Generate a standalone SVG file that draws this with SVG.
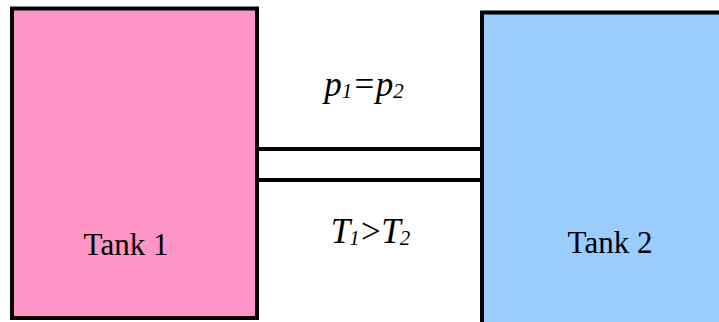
<svg xmlns="http://www.w3.org/2000/svg" width="719" height="322" viewBox="0 0 719 322">
<style>
.tank{stroke:#000;stroke-width:4}
.pipe{stroke:#000;stroke-width:4;fill:none}
.lbl{font-family:"Liberation Serif",serif;font-size:31px;fill:#000;text-anchor:middle}
.math{font-family:"Liberation Serif",serif;font-size:35px;font-style:italic;fill:#000;text-anchor:middle}
.sub{font-size:21px}
</style>
<rect width="719" height="322" fill="#fff"/>
<g id="connectors">
<line class="pipe" x1="257" y1="149" x2="482" y2="149"/>
<line class="pipe" x1="257" y1="180" x2="482" y2="180"/>
</g>
<g id="tank1">
<rect class="tank" x="12" y="8.5" width="245" height="309.5" fill="#fe95c6"/>
<text class="lbl" x="126" y="255">Tank 1</text>
</g>
<g id="tank2">
<rect class="tank" x="482" y="12.5" width="250" height="320" fill="#9accfe"/>
<text class="lbl" x="610" y="253">Tank 2</text>
</g>
<g id="labels">
<text class="math" x="364" y="96">p<tspan class="sub" dy="2">1</tspan><tspan dy="-2">=p</tspan><tspan class="sub" dy="2">2</tspan></text>
<text class="math" x="370" y="243" letter-spacing="-1">T<tspan class="sub" dy="2">1</tspan><tspan dy="-2">&gt;T</tspan><tspan class="sub" dy="2">2</tspan></text>
</g>
</svg>
